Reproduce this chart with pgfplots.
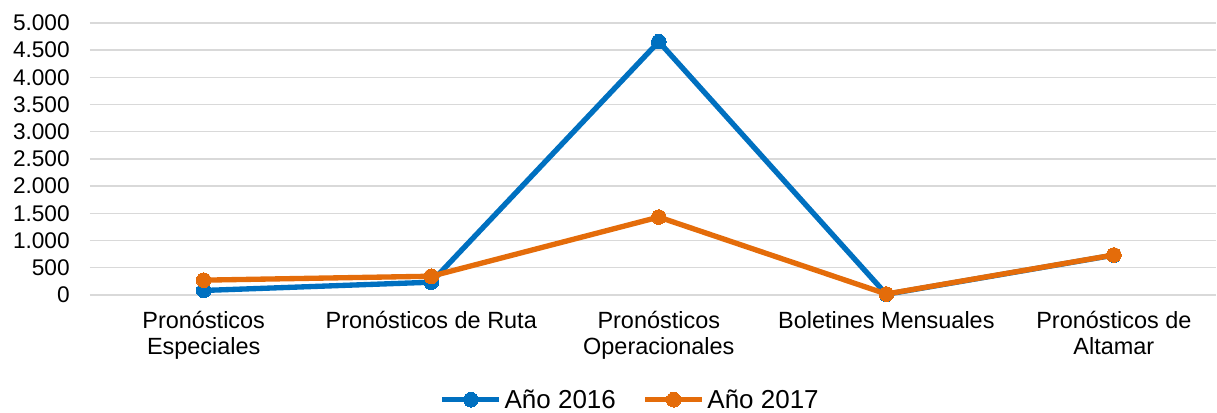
\documentclass[border=0pt]{standalone}
\usepackage{pgfplots}
\pgfplotsset{compat=1.18}
\usepackage{fontspec}
\setmainfont{Liberation Sans}

\definecolor{c2016}{HTML}{0070C0}
\definecolor{c2017}{HTML}{E46C0A}
\definecolor{gridc}{HTML}{D9D9D9}

\begin{document}
\begin{tikzpicture}
\begin{axis}[
    at={(0pt,0pt)}, anchor=south west,
    scale only axis,
    width=845.25pt, height=204pt,
    xmin=-0.5, xmax=4.45,
    ymin=0, ymax=5000,
    ytick={0,500,...,5000},
    xtick={0,1,2,3,4},
    xticklabels={Pronósticos\\Especiales, Pronósticos de Ruta, Pronósticos\\Operacionales, Boletines Mensuales, Pronósticos de\\Altamar},
    axis line style={draw=none},
    major tick length=0pt,
    ymajorgrids,
    grid style={gridc, line width=1.1pt},
    /pgf/number format/.cd, 1000 sep={.}, assume math mode=true,
    /pgfplots/.cd,
    yticklabel style={font=\fontsize{17}{20}\selectfont, anchor=east, inner sep=0pt, xshift=-15pt},
    xticklabel style={font=\fontsize{17.6}{19.5}\selectfont, anchor=north, inner sep=0pt, align=center, yshift=-12pt},
    clip=false,
    legend columns=2,
    legend style={draw=none, fill=none, at={(0.480,-0.386)}, anchor=center,
        font=\fontsize{19.5}{22}\selectfont,
        /tikz/every even column/.append style={column sep=18pt},
        inner sep=0pt},
    legend image code/.code={
        \draw[mark repeat=2, mark phase=2] plot coordinates {(0cm,0cm) (0.75cm,0cm) (1.5cm,0cm)};
    },
]
\addplot[c2016, line width=4pt, mark=*, mark size=5.5pt, mark options={solid, fill=c2016, line width=0pt}]
    coordinates {(0,80) (1,232) (2,4657) (3,10) (4,730)};
\addlegendentry{Año 2016}
\addplot[c2017, line width=4pt, mark=*, mark size=5.5pt, mark options={solid, fill=c2017, line width=0pt}]
    coordinates {(0,270) (1,342) (2,1430) (3,15) (4,733)};
\addlegendentry{Año 2017}
\end{axis}
\path[use as bounding box] (-67.5pt,-87pt) rectangle (845.25pt,221.25pt);
\end{tikzpicture}
\end{document}
